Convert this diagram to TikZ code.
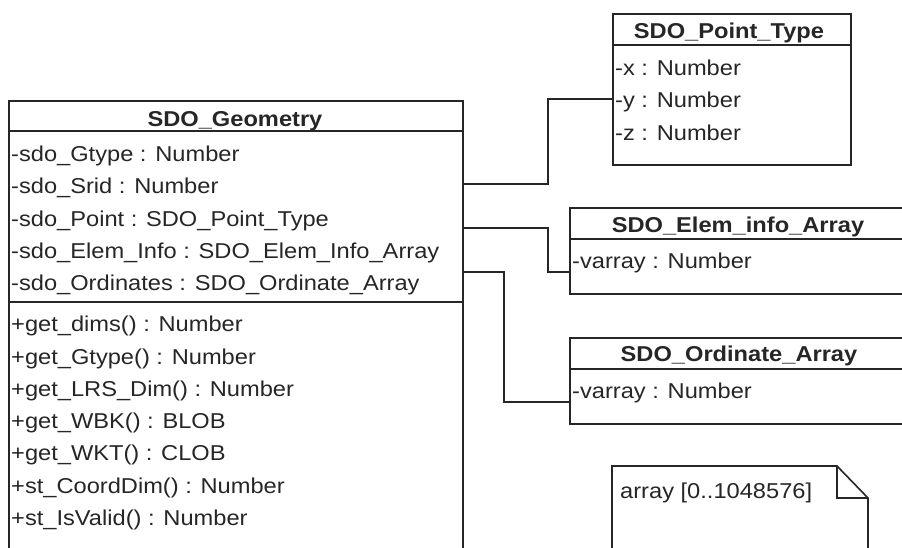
\documentclass[tikz,border=0pt]{standalone}
\usepackage{fontspec}
\setmainfont{Liberation Sans}[FakeStretch=1.1]
\begin{document}
\begin{tikzpicture}[x=1pt,y=-1pt,
  umlbox/.style={draw=black!85, line width=1.6pt, fill=white, anchor=north west, inner sep=0pt},
  sep/.style={draw=black!85, line width=1.6pt},
  ttl/.style={font=\fontsize{21.5}{24}\selectfont\bfseries, text=black!85, anchor=base, inner sep=0pt},
  txt/.style={font=\fontsize{21.5}{24}\selectfont, text=black!85, anchor=base west, inner sep=0pt},
  conn/.style={draw=black!85, line width=1.6pt}]
\useasboundingbox (0,0) rectangle (902,547);
\clip (0,0) rectangle (902,547);
\fill[white] (0,0) rectangle (902,547);

% SDO_Geometry
\node[umlbox, minimum width=454pt, minimum height=480pt] (geo) at (8,100) {};
\draw[sep] (8,131) -- (462,131);
\draw[sep] (8,302) -- (462,302);
\node[ttl] (geot) at (235,126.5) {SDO\_Geometry};
\node[txt] (a1) at (11,161.5) {-sdo\_Gtype : Number};
\node[txt] (a2) at (11,193.5) {-sdo\_Srid : Number};
\node[txt] (a3) at (11,226) {-sdo\_Point : SDO\_Point\_Type};
\node[txt] (a4) at (11,258) {-sdo\_Elem\_Info : SDO\_Elem\_Info\_Array};
\node[txt] (a5) at (11,290.5) {-sdo\_Ordinates : SDO\_Ordinate\_Array};
\node[txt] (m1) at (11,331.7) {+get\_dims() : Number};
\node[txt] (m2) at (11,364.5) {+get\_Gtype() : Number};
\node[txt] (m3) at (11,396.7) {+get\_LRS\_Dim() : Number};
\node[txt] (m4) at (11,428.5) {+get\_WBK() : BLOB};
\node[txt] (m5) at (11,460.5) {+get\_WKT() : CLOB};
\node[txt] (m6) at (11,493) {+st\_CoordDim() : Number};
\node[txt] (m7) at (11,525) {+st\_IsValid() : Number};

% SDO_Point_Type
\node[umlbox, minimum width=238pt, minimum height=151pt] (pt) at (612,13) {};
\draw[sep] (612,45) -- (850,45);
\node[ttl] (ptt) at (729,38) {SDO\_Point\_Type};
\node[txt] (px) at (615,75) {-x : Number};
\node[txt] (py) at (615,107.5) {-y : Number};
\node[txt] (pz) at (615,140) {-z : Number};

% SDO_Elem_info_Array
\node[umlbox, minimum width=338pt, minimum height=86pt] (el) at (569,207) {};
\draw[sep] (569,239) -- (907,239);
\node[ttl] (elt) at (738,232) {SDO\_Elem\_info\_Array};
\node[txt] (elv) at (572,268) {-varray : Number};

% SDO_Ordinate_Array
\node[umlbox, minimum width=338pt, minimum height=86pt] (ord) at (569,337) {};
\draw[sep] (569,369) -- (907,369);
\node[ttl] (ordt) at (739,361.7) {SDO\_Ordinate\_Array};
\node[txt] (ordv) at (572,398) {-varray : Number};

% Note
\draw[sep, fill=white] (612,600) -- (612,466) -- (837,466) -- (868,498) -- (868,600);
\draw[sep] (837,466) -- (837,498) -- (868,498);
\node[txt] (note) at (620,498) {array [0..1048576]};

% connectors
\coordinate (c1a) at (462,184);
\coordinate (c1b) at (548,99);
\coordinate (c2a) at (462,228);
\coordinate (c2b) at (548,272);
\coordinate (c3a) at (462,272);
\coordinate (c3b) at (504,402);
\draw[conn] (c1a) -| (c1b) -- (pt.west |- c1b);
\draw[conn] (c2a) -| (c2b) -- (el.west |- c2b);
\draw[conn] (c3a) -| (c3b) -- (ord.west |- c3b);
\end{tikzpicture}
\end{document}
